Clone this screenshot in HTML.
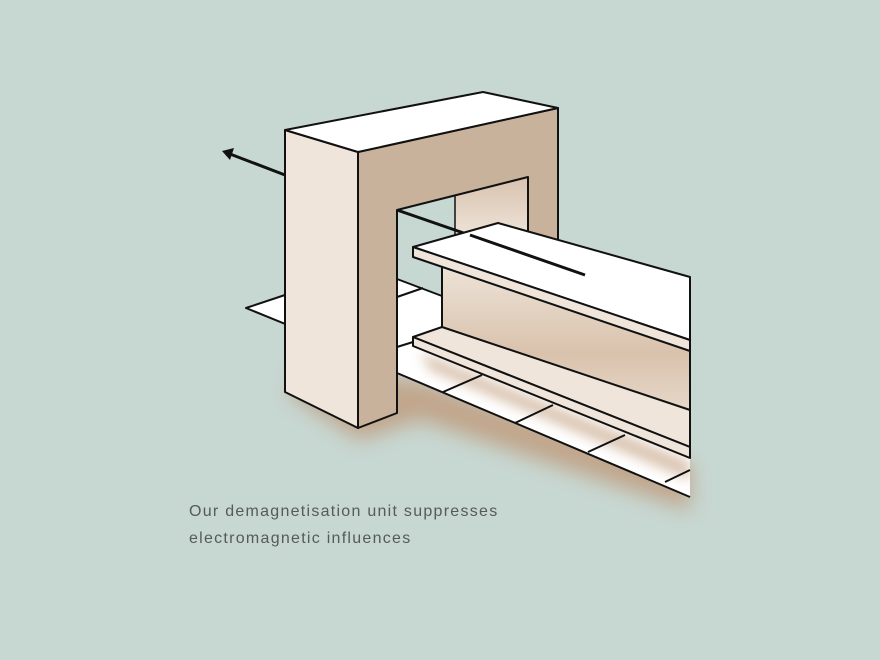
<!DOCTYPE html>
<html><head><meta charset="utf-8"><style>html,body{margin:0;padding:0;background:#c7d7d2;}svg{display:block}</style></head>
<body>
<svg width="880" height="660" viewBox="0 0 880 660" xmlns="http://www.w3.org/2000/svg">
<defs>
<filter id="blur" x="-20%" y="-20%" width="140%" height="140%"><feGaussianBlur stdDeviation="10"/></filter>
<filter id="blur2" x="-20%" y="-50%" width="140%" height="200%"><feGaussianBlur stdDeviation="6"/></filter>
<linearGradient id="web" x1="0" y1="0" x2="0" y2="1"><stop offset="0" stop-color="#efe6dc"/><stop offset="0.5" stop-color="#d9c2ac"/><stop offset="1" stop-color="#efe6dc"/></linearGradient>
<linearGradient id="back" x1="0" y1="0" x2="0" y2="1"><stop offset="0" stop-color="#d8c2ad"/><stop offset="1" stop-color="#f1e8df"/></linearGradient>
</defs>
<rect width="880" height="660" fill="#c7d7d2"/>
<!-- shadows -->
<polygon points="290,395 360,440 420,420 690,510 690,470 420,380 300,370" fill="#c09a7a" filter="url(#blur)" opacity="0.8"/>
<!-- floor -->
<polygon points="246,308 300,290 300,330" fill="#fff" stroke="#111" stroke-width="2" stroke-linejoin="round"/>
<polygon points="397,279 442,296 442,340 690,440 690,497 397,373" fill="#fff"/>
<polygon points="420,352 690,462 690,480 430,370" fill="#c9a98c" filter="url(#blur2)" opacity="0.7"/>
<line x1="397" y1="279" x2="442" y2="296" stroke="#111" stroke-width="2"/>
<line x1="397" y1="297" x2="423" y2="288" stroke="#111" stroke-width="2"/>
<line x1="397" y1="347" x2="413" y2="342" stroke="#111" stroke-width="2"/>
<line x1="397" y1="373" x2="690" y2="497" stroke="#111" stroke-width="2"/>
<line x1="443" y1="392" x2="482" y2="375" stroke="#111" stroke-width="2"/>
<line x1="515" y1="423" x2="553" y2="405" stroke="#111" stroke-width="2"/>
<line x1="588" y1="452" x2="625" y2="435" stroke="#111" stroke-width="2"/>
<line x1="665" y1="482" x2="690" y2="470" stroke="#111" stroke-width="2"/>
<!-- back inner leg panel -->
<polygon points="455,192 528,177 528,240 455,245" fill="url(#back)"/>
<line x1="455" y1="192" x2="455" y2="240" stroke="#111" stroke-width="1.5"/>
<!-- arrow line inside opening -->
<line x1="397" y1="210" x2="585" y2="275" stroke="#111" stroke-width="3"/>
<!-- frame tan side -->
<polygon points="358,152 558,108 558,245 528,245 528,177 397,210 397,413 358,428" fill="#c9b29c" stroke="#111" stroke-width="2" stroke-linejoin="round"/>
<!-- front face -->
<polygon points="285,130 358,152 358,428 285,392" fill="#efe5db" stroke="#111" stroke-width="2" stroke-linejoin="round"/>
<!-- top face -->
<polygon points="285,130 483,92 558,108 358,152" fill="#fff" stroke="#111" stroke-width="2" stroke-linejoin="round"/>
<!-- beam web -->
<polygon points="442,258 690,340 690,448 442,340" fill="url(#web)" stroke="#111" stroke-width="2" stroke-linejoin="round"/>
<!-- bottom flange -->
<polygon points="413,337 442,327 690,410 690,447" fill="#efe5db" stroke="#111" stroke-width="2" stroke-linejoin="round"/>
<polygon points="413,337 690,447 690,458 413,346" fill="#efe5db" stroke="#111" stroke-width="2" stroke-linejoin="round"/>
<!-- top flange -->
<polygon points="413,247 498,223 690,277 690,340" fill="#fff" stroke="#111" stroke-width="2" stroke-linejoin="round"/>
<polygon points="413,247 690,340 690,351 413,257" fill="#efe5db" stroke="#111" stroke-width="2" stroke-linejoin="round"/>
<!-- arrow on top -->
<line x1="470" y1="235" x2="585" y2="275" stroke="#111" stroke-width="3"/>
<!-- left arrow -->
<line x1="285" y1="175" x2="230" y2="154" stroke="#111" stroke-width="3"/>
<polygon points="222,151 234,148 230,160" fill="#111"/>
<text font-family="Liberation Sans, sans-serif" font-size="16" fill="#555b59" letter-spacing="0.8">
<tspan x="189" y="516" textLength="309">Our demagnetisation unit suppresses</tspan>
<tspan x="189" y="543" textLength="222">electromagnetic influences</tspan>
</text>
</svg>
</body></html>
